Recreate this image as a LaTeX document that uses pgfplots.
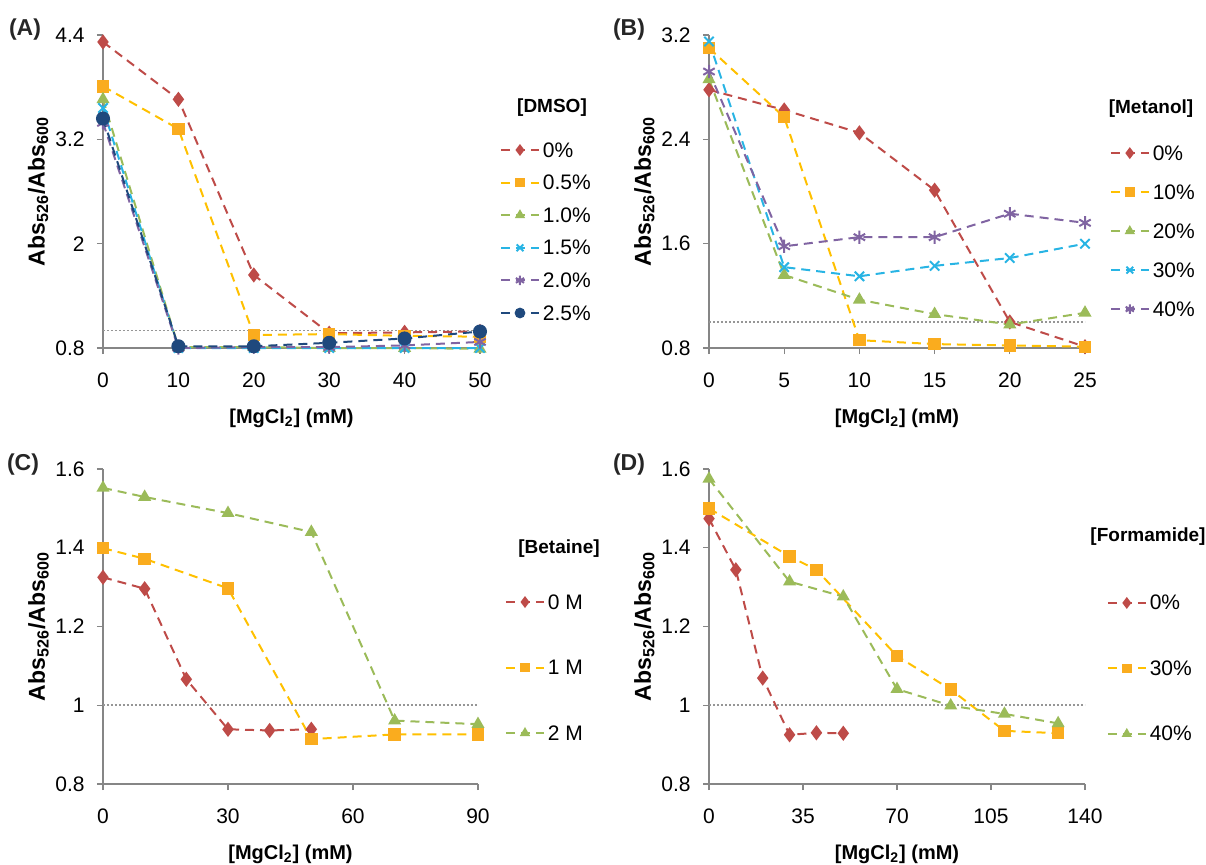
\documentclass[border=0pt]{standalone}
\usepackage{fontspec}
\setmainfont{Liberation Sans}
\usepackage{pgfplots}
\pgfplotsset{compat=1.18}

\definecolor{cred}{RGB}{190,75,72}
\definecolor{cyel}{RGB}{255,192,0}
\definecolor{cyelm}{RGB}{250,172,30}
\definecolor{cgrn}{RGB}{155,187,89}
\definecolor{ccyn}{RGB}{40,180,228}
\definecolor{cpur}{RGB}{128,100,162}
\definecolor{cblu}{RGB}{31,73,125}
\definecolor{caxis}{RGB}{134,134,134}
\definecolor{cdot}{RGB}{150,150,150}

\pgfplotsset{
  panel/.style={
    scale only axis,
    axis x line=bottom, axis y line=left,
    axis line style={-, caxis, line width=0.6pt},
    tick style={caxis, line width=0.6pt},
    major tick length=3pt,
    tick align=outside,
    clip=false,
    /pgf/number format/assume math mode=true,
    ticklabel style={font=\fontsize{10.5}{12}\selectfont},
    xticklabel style={yshift=-6pt},
    yticklabel style={xshift=-2.7pt},
    xmin=0, xtick=data,
    xlabel={\textbf{[MgCl\textsubscript{2}] (mM)}},
    ylabel={\textbf{Abs\textsubscript{526}/Abs\textsubscript{600}}},
    xlabel style={font=\fontsize{10}{12}\selectfont, at={(axis description cs:0.5,0)}, yshift=-35pt, anchor=center},
    ylabel style={font=\fontsize{11.5}{13}\selectfont, at={(axis description cs:-0.172,0.5)}, rotate=0, anchor=center},
    legend cell align=left,
    legend image code/.code={\draw[mark repeat=2,mark phase=2,##1,/tikz/every mark/.append style={scale=0.72}] plot coordinates {(0pt,0pt) (9.5pt,0pt) (19pt,0pt)};},
    legend style={draw=none, fill=none, inner sep=0pt, outer sep=0pt,
      font=\fontsize{10.5}{12}\selectfont, anchor=north west,
      nodes={inner sep=0pt, text height=7pt, text depth=0pt}, column sep=1.5pt},
  },
  ser/.style={dash pattern=on 4.5pt off 3pt, line width=1pt, mark options={solid}},
  sred/.style={ser, cred, mark=diamond*, mark size=3pt},
  syel/.style={ser, cyel, mark=square*, mark size=2.6pt, mark options={solid, fill=cyelm, draw=cyelm}},
  sgrn/.style={ser, cgrn, mark=triangle*, mark size=2.8pt},
  scyn/.style={ser, ccyn, mark=x, mark size=3.3pt},
  spur/.style={ser, cpur, mark=asterisk, mark size=3.3pt},
  sblu/.style={ser, cblu, mark=*, mark size=3pt},
  ref/.style={cdot, dash pattern=on 0.8pt off 1.2pt, line width=0.8pt, forget plot},
}

\begin{document}
\begin{tikzpicture}
\useasboundingbox (0pt,0pt) rectangle (603pt,-432pt);

% (A) DMSO
\begin{axis}[panel, at={(51.5pt,-174pt)}, anchor=south west,
  width=188.5pt, height=156.5pt,
  xmax=50, ymin=0.8, ymax=4.4, ytick={0.8,2,3.2,4.4},
  legend style={at={(1.053,0.655)}, row sep=9.3pt}]
\addplot[ref] coordinates {(0,1) (50,1)};
\addplot[sred] coordinates {(0,4.32) (10,3.66) (20,1.64) (30,0.97) (40,0.98) (50,0.99)};
\addplot[syel] coordinates {(0,3.81) (10,3.32) (20,0.95) (30,0.96) (40,0.94) (50,0.93)};
\addplot[sgrn] coordinates {(0,3.66) (10,0.81) (20,0.81) (30,0.80) (40,0.80) (50,0.79)};
\addplot[scyn] coordinates {(0,3.56) (10,0.80) (20,0.80) (30,0.80) (40,0.80) (50,0.80)};
\addplot[spur] coordinates {(0,3.39) (10,0.80) (20,0.81) (30,0.81) (40,0.83) (50,0.87)};
\addplot[sblu] coordinates {(0,3.44) (10,0.82) (20,0.82) (30,0.86) (40,0.91) (50,0.99)};
\legend{0\%, 0.5\%, 1.0\%, 1.5\%, 2.0\%, 2.5\%}
\end{axis}

% (B) Metanol
\begin{axis}[panel, at={(354.5pt,-174pt)}, anchor=south west,
  width=188pt, height=156.5pt,
  xmax=25, ymin=0.8, ymax=3.2, ytick={0.8,1.6,2.4,3.2},
  legend style={at={(1.066,0.645)}, row sep=12.5pt}]
\addplot[ref] coordinates {(0,1) (25,1)};
\addplot[sred] coordinates {(0,2.78) (5,2.625) (10,2.45) (15,2.01) (20,1.00) (25,0.81)};
\addplot[syel] coordinates {(0,3.10) (5,2.57) (10,0.86) (15,0.83) (20,0.82) (25,0.81)};
\addplot[sgrn] coordinates {(0,2.86) (5,1.36) (10,1.17) (15,1.06) (20,0.98) (25,1.07)};
\addplot[scyn] coordinates {(0,3.15) (5,1.42) (10,1.35) (15,1.43) (20,1.49) (25,1.60)};
\addplot[spur] coordinates {(0,2.92) (5,1.58) (10,1.65) (15,1.65) (20,1.83) (25,1.76)};
\legend{0\%, 10\%, 20\%, 30\%, 40\%}
\end{axis}

% (C) Betaine
\begin{axis}[panel, at={(51.5pt,-392pt)}, anchor=south west,
  width=187.5pt, height=157.5pt,
  xmax=90, xtick={0,30,60,90}, ymin=0.8, ymax=1.6, ytick={0.8,1,1.2,1.4,1.6},
  legend style={at={(1.072,0.6)}, row sep=25.75pt}]
\addplot[ref] coordinates {(0,1) (90,1)};
\addplot[sred] coordinates {(0,1.325) (10,1.296) (20,1.066) (30,0.939) (40,0.936) (50,0.939)};
\addplot[syel] coordinates {(0,1.399) (10,1.372) (30,1.297) (50,0.914) (70,0.926) (90,0.926)};
\addplot[sgrn] coordinates {(0,1.552) (10,1.529) (30,1.488) (50,1.440) (70,0.961) (90,0.952)};
\legend{0 M, 1 M, 2 M}
\end{axis}

% (D) Formamide
\begin{axis}[panel, at={(354.5pt,-392pt)}, anchor=south west,
  width=188pt, height=157.5pt,
  xmax=140, xtick={0,35,70,105,140}, ymin=0.8, ymax=1.6, ytick={0.8,1,1.2,1.4,1.6},
  legend style={at={(1.058,0.597)}, row sep=25.75pt}]
\addplot[ref] coordinates {(0,1) (140,1)};
\addplot[sred] coordinates {(0,1.474) (10,1.344) (20,1.069) (30,0.925) (40,0.930) (50,0.929)};
\addplot[syel] coordinates {(0,1.500) (30,1.378) (40,1.344) (70,1.125) (90,1.040) (110,0.935) (130,0.929)};
\addplot[sgrn] coordinates {(0,1.575) (30,1.314) (50,1.276) (70,1.041) (90,0.999) (110,0.978) (130,0.954)};
\legend{0\%, 30\%, 40\%}
\end{axis}

% panel letters and legend titles
\begin{scope}[every node/.style={font=\bfseries\fontsize{11.5}{13}\selectfont, text=black!85}]
\node at (12.5pt,-15pt) {(A)};
\node at (314.5pt,-15pt) {(B)};
\node at (11.5pt,-232.5pt) {(C)};
\node at (314.5pt,-232.5pt) {(D)};
\end{scope}
\begin{scope}[every node/.style={font=\bfseries\fontsize{9.5}{11}\selectfont}]
\node at (276pt,-54pt) {[DMSO]};
\node at (575.5pt,-54.5pt) {[Metanol]};
\node at (279.5pt,-274.5pt) {[Betaine]};
\node at (574pt,-268.5pt) {[Formamide]};
\end{scope}
\end{tikzpicture}
\end{document}
